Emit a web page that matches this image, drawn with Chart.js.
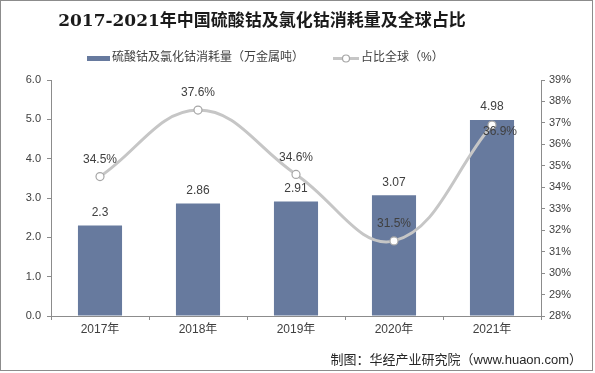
<!DOCTYPE html>
<html>
<head>
<meta charset="utf-8">
<script src="https://cdn.jsdelivr.net/npm/chart.js@4"></script>
<style>
  html, body { margin: 0; padding: 0; background: #fff; }
  #wrap { width: 595px; height: 373px; position: relative; }
</style>
</head>
<body>
<div id="wrap"><canvas id="c" width="595" height="373"></canvas></div>
<script>
const years = ['2017年', '2018年', '2019年', '2020年', '2021年'];
const consumption = [2.3, 2.86, 2.91, 3.07, 4.98];
const share = [34.5, 37.6, 34.6, 31.5, 36.9];
const titleText = '2017-2021年中国硫酸钴及氯化钴消耗量及全球占比';
const barName = '硫酸钴及氯化钴消耗量（万金属吨）';
const lineName = '占比全球（%）';
const sourceText = '制图：华经产业研究院（www.huaon.com）';

const barColor = '#677a9e';
const lineColor = '#c6c6c6';
const textColor = '#404040';
const sans = '"Liberation Sans", Arial, "Noto Sans CJK SC", sans-serif';

// title, legend, labels, border
const decor = {
  id: 'decor',
  afterDraw(chart) {
    const ctx = chart.ctx;
    ctx.save();

    // outer border
    ctx.strokeStyle = '#8c8c8c';
    ctx.lineWidth = 1;
    ctx.strokeRect(0.5, 0.5, 592, 370);

    // title
    ctx.fillStyle = '#1a1a1a';
    ctx.font = 'bold 17px "DejaVu Serif", "Liberation Serif", "Noto Sans CJK SC", serif';
    ctx.textAlign = 'center';
    ctx.textBaseline = 'middle';
    ctx.fillText(titleText, 262, 22);

    // legend
    ctx.font = '12px ' + sans;
    ctx.textAlign = 'left';
    ctx.fillStyle = barColor;
    ctx.fillRect(87, 56, 23, 5);
    ctx.fillStyle = textColor;
    ctx.fillText(barName, 112, 58);
    ctx.strokeStyle = lineColor;
    ctx.lineWidth = 3;
    ctx.beginPath();
    ctx.moveTo(333, 58.5);
    ctx.lineTo(359, 58.5);
    ctx.stroke();
    ctx.fillStyle = '#fff';
    ctx.lineWidth = 1.2;
    ctx.strokeStyle = '#a6a6a6';
    ctx.beginPath();
    ctx.arc(346, 58.5, 3.5, 0, Math.PI * 2);
    ctx.fill();
    ctx.stroke();
    ctx.fillStyle = textColor;
    ctx.fillText(lineName, 361, 58);

    // bar value labels
    ctx.font = '12px ' + sans;
    ctx.textAlign = 'center';
    const bars = chart.getDatasetMeta(1).data;
    bars.forEach((b, i) => {
      ctx.fillText(String(consumption[i]), b.x, b.y - 13);
    });

    // line value labels
    const pts = chart.getDatasetMeta(0).data;
    pts.forEach((p, i) => {
      const txt = share[i].toFixed(1) + '%';
      if (i === pts.length - 1) {
        ctx.fillText(txt, p.x + 8, p.y + 7);
      } else {
        ctx.fillText(txt, p.x, p.y - 17);
      }
    });

    // source
    ctx.font = '13px ' + sans;
    ctx.textAlign = 'right';
    ctx.fillStyle = '#262626';
    ctx.fillText(sourceText, 582, 360);

    ctx.restore();
  }
};

const tickFont = { family: sans, size: 11 };

new Chart(document.getElementById('c'), {
  data: {
    labels: years,
    datasets: [
      {
        type: 'line',
        label: lineName,
        data: share,
        yAxisID: 'y1',
        borderColor: lineColor,
        borderWidth: 3,
        tension: 0.4,
        pointRadius: 4,
        pointBackgroundColor: '#fff',
        pointBorderColor: '#a6a6a6',
        pointBorderWidth: 1.2,
        order: 0
      },
      {
        type: 'bar',
        label: barName,
        data: consumption,
        yAxisID: 'y',
        backgroundColor: barColor,
        barPercentage: 0.45,
        categoryPercentage: 1,
        order: 1
      }
    ]
  },
  options: {
    responsive: false,
    animation: false,
    layout: { padding: { top: 80, left: 1, right: 0, bottom: 27 } },
    plugins: {
      legend: { display: false },
      title: { display: false },
      tooltip: { enabled: false }
    },
    scales: {
      x: {
        offset: true,
        grid: { display: true, offset: true, drawOnChartArea: false, tickLength: 4, color: '#8c8c8c' },
        border: { color: '#8c8c8c' },
        ticks: { color: textColor, font: { family: sans, size: 12 }, padding: 2 },
        afterFit(s) { s.height = 30; }
      },
      y: {
        position: 'left',
        min: 0,
        max: 6,
        grid: { drawOnChartArea: false, tickLength: 4, color: '#8c8c8c' },
        border: { color: '#8c8c8c' },
        ticks: { stepSize: 1, color: textColor, font: tickFont, padding: 6,
          callback: v => v.toFixed(1) },
        afterFit(s) { s.width = 50; }
      },
      y1: {
        position: 'right',
        min: 28,
        max: 39,
        grid: { drawOnChartArea: false, tickLength: 4, color: '#8c8c8c' },
        border: { color: '#8c8c8c' },
        ticks: { stepSize: 1, color: textColor, font: tickFont, padding: 4,
          callback: v => v + '%' },
        afterFit(s) { s.width = 54; }
      }
    }
  },
  plugins: [decor]
});
</script>
</body>
</html>
